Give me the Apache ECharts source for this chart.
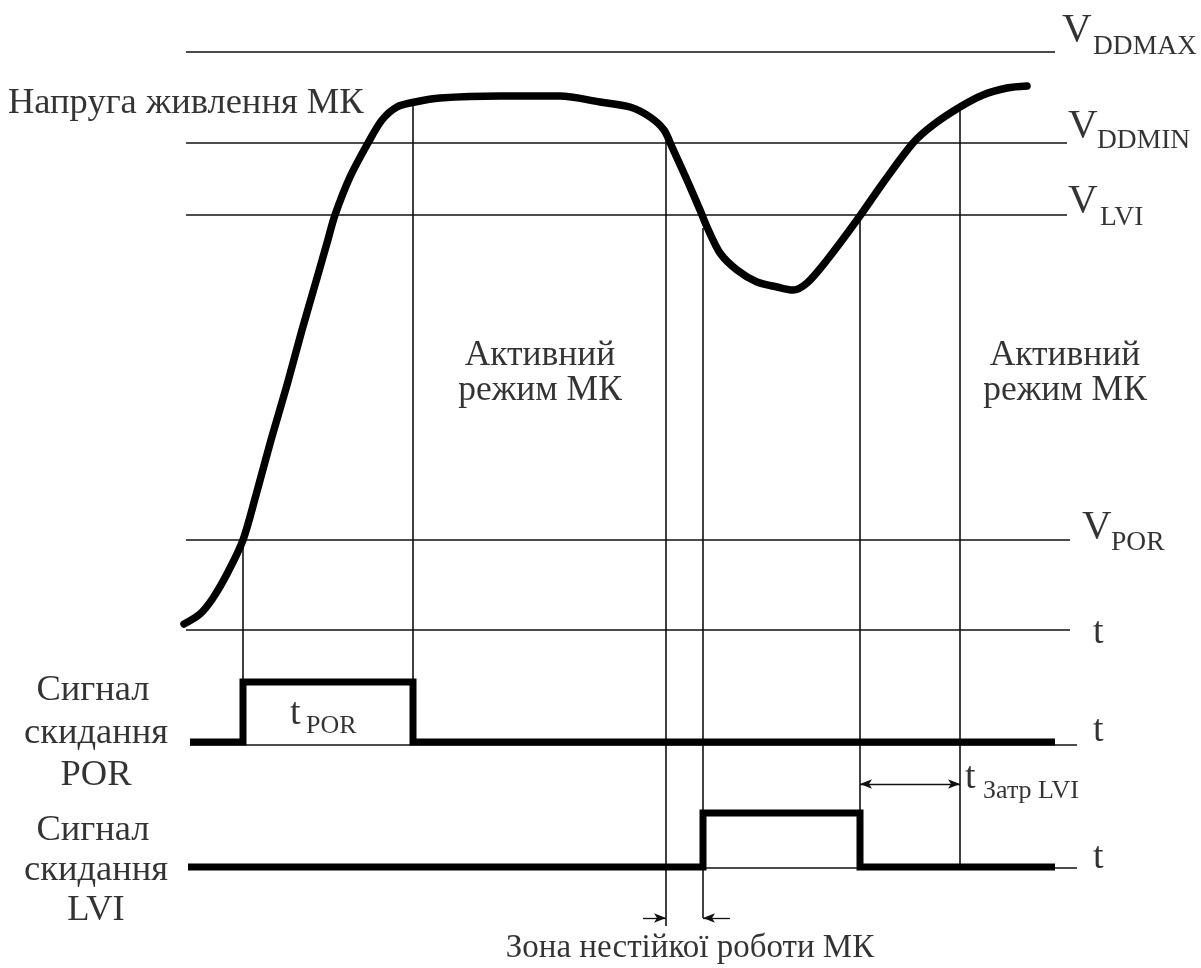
<!DOCTYPE html>
<html><head><meta charset="utf-8">
<script src="https://cdn.jsdelivr.net/npm/echarts@6/dist/echarts.min.js"></script>
<style>html,body{margin:0;padding:0;background:#fff}#c{width:1201px;height:968px}</style>
</head><body><div id="c"></div>
<script>
// Diagram units: x = time, y = level (screen-like, inverted axis)
var supplyCurveX = [184,200,213,228,243,256,271,287,302,317,327,335,350,368,382,397,415,440,500,560,600,630,650,664,672,687,700,707,720,737,757,777,793,807,827,857,883,913,933,960,983,1007,1027];
var supplyCurveY = [624,614,598,572,540,495,440,385,330,278,243,215,177,143,120,107,102,98,96,96,102,107,117,130,147,180,210,227,253,270,282,287,290,283,260,220,183,143,125,107,95,88,86];
// threshold levels
var levelNames = ['VDDMAX','VDDMIN','VLVI','VPOR','T1'];
var levelValues = [52,143,215,540,630];
var levelStart = [186,186,186,186,186];
var levelEnd = [1055,1067,1067,1070,1070];
// signal baselines
var baseNames = ['POR','LVI'];
var baseValues = [745,868];
// POR signal (step points)
var porX = [190,243,243,413,413,1055];
var porY = [742,742,682,682,742,742];
// LVI signal
var lviX = [188,703,703,860,860,1055];
var lviY = [867,867,813,813,867,867];
// vertical markers
var markerX = [243,413,666,703,860,960];
var markerTop = [540,103,130,228,218,107];
var markerBottom = [682,745,926,918,868,868];
// texts
var mainTexts = ['Напруга живлення МК','Активний','режим МК','Активний','режим МК',
  'Сигнал','скидання','POR','Сигнал','скидання','LVI','Зона нестійкої роботи МК'];
var symbolTexts = ['V','V','V','V','t','t','t','t','t'];
var subTexts = ['DDMAX','DDMIN','LVI','POR','POR','Затр LVI'];

var F = 'Liberation Serif, Times New Roman, serif';
function xy(xs, ys){ return xs.map(function(x,i){return [x, ys[i]];}); }

var series = [];
levelValues.forEach(function(v,i){
  series.push({type:'line', data:[[levelStart[i],v],[levelEnd[i],v]], symbol:'none', silent:true,
    lineStyle:{color:'#111', width:1.7}});
});
baseValues.forEach(function(v,i){
  series.push({type:'line', data:[[190,v],[1077,v]], symbol:'none', lineStyle:{color:'#111', width:1.6}});
});
markerX.forEach(function(x,i){
  series.push({type:'line', data:[[x,markerTop[i]],[x,markerBottom[i]]], symbol:'none', lineStyle:{color:'#111', width:1.6}});
});
series.push({type:'line', data: xy(supplyCurveX, supplyCurveY), smooth:0.3, symbol:'none',
  lineStyle:{color:'#000', width:7.5, cap:'round', join:'round'}});
series.push({type:'line', data: xy(porX, porY), symbol:'none', lineStyle:{color:'#000', width:7, join:'miter'}});
series.push({type:'line', data: xy(lviX, lviY), symbol:'none', lineStyle:{color:'#000', width:7, join:'miter'}});
series.push({type:'line', data:[], markLine:{silent:true, symbol:['arrow','arrow'], symbolSize:[7,12],
  lineStyle:{color:'#111', width:1.3, type:'solid'}, label:{show:false},
  data:[[{coord:[860,784]},{coord:[960,784]}]]}});
series.push({type:'line', data:[], markLine:{silent:true, symbol:['none','arrow'], symbolSize:[7,12],
  lineStyle:{color:'#111', width:1.3, type:'solid'}, label:{show:false},
  data:[[{coord:[643,918]},{coord:[666,918]}],[{coord:[730,918]},{coord:[703,918]}]]}});

var textLayout = [
  [8,103,36.5,'left'],[540,356,35.5,'center'],[540,391,35.5,'center'],[1065,356,35.5,'center'],[1065,391,35.5,'center'],
  [93,690,36.5,'center'],[96,733,36.5,'center'],[96,775,36.5,'center'],[93,830,36.5,'center'],[96,870,36.5,'center'],[96,910,36.5,'center'],
  [690,948,33,'center']
];
var symLayout = [[1062,30,41],[1068,126,41],[1068,201,41],[1082,527,41],[1093,633,38],[1093,731,38],[1093,858,38],[290,714,38],[965,778,38]];
var subLayout = [[1093,47,27.5],[1097,141,27.5],[1100,218,27.5],[1111,543,27.5],[306,726,26],[983,791,26]];

var textData = [];
mainTexts.forEach(function(t,i){
  var L = textLayout[i];
  textData.push({value:[L[0],L[1]], label:{formatter:t, fontSize:L[2], align:L[3]}});
});
symbolTexts.forEach(function(t,i){
  var L = symLayout[i];
  textData.push({value:[L[0],L[1]], label:{formatter:t, fontSize:L[2], align:'left'}});
});
subTexts.forEach(function(t,i){
  var L = subLayout[i];
  textData.push({value:[L[0],L[1]], label:{formatter:t, fontSize:L[2], align:'left'}});
});
series.push({type:'scatter', symbolSize:0, data:textData, silent:true,
  label:{show:true, position:'inside', verticalAlign:'middle', color:'#000', fontFamily:F}});

var chart = echarts.init(document.getElementById('c'));
chart.setOption({
  animation:false,
  backgroundColor:'#fff',
  grid:{left:0,right:0,top:0,bottom:0},
  xAxis:{type:'value', min:0, max:1201, show:false},
  yAxis:{type:'value', min:0, max:968, inverse:true, show:false},
  series:series
});
</script></body></html>
